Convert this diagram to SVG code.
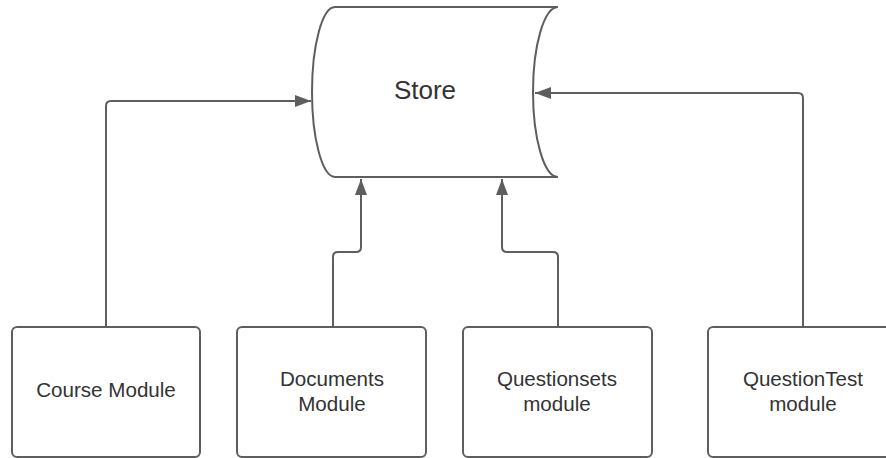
<svg xmlns="http://www.w3.org/2000/svg" width="886" height="458" viewBox="0 0 886 458">
<style>
.shape{fill:#ffffff;stroke:#5e5e5e;stroke-width:2}
.conn{fill:none;stroke:#5e5e5e;stroke-width:2}
.lbl{font-family:"Liberation Sans",Arial,sans-serif;font-size:20.6px;fill:#333333;text-anchor:middle}
.big{font-size:26px}
</style>
<defs>
<marker id="arr" viewBox="0 0 16 12" refX="16" refY="6" markerWidth="16" markerHeight="12" markerUnits="userSpaceOnUse" orient="auto">
<path d="M0,0 L16,6 L0,12 z" fill="#5e5e5e"/>
</marker>
</defs>
<rect width="886" height="458" fill="#ffffff"/>
<g id="store">
<path class="shape" d="M335,7 H558 A25,85 0 0 0 558,177 H335 A23,85 0 0 1 335,7 Z"/>
<text class="lbl big" x="425" y="99">Store</text>
</g>
<g id="course">
<rect class="shape" x="12" y="327" width="188" height="130" rx="5"/>
<text class="lbl" x="106" y="397">Course Module</text>
</g>
<g id="documents">
<rect class="shape" x="237" y="327" width="189" height="130" rx="5"/>
<text class="lbl" x="332" y="386">Documents</text>
<text class="lbl" x="332" y="411">Module</text>
</g>
<g id="questionsets">
<rect class="shape" x="463" y="327" width="189" height="130" rx="5"/>
<text class="lbl" x="557" y="386">Questionsets</text>
<text class="lbl" x="557" y="411">module</text>
</g>
<g id="questiontest">
<rect class="shape" x="708" y="327" width="190" height="130" rx="5"/>
<text class="lbl" x="803" y="386">QuestionTest</text>
<text class="lbl" x="803" y="411">module</text>
</g>
<g id="connectors">
<path class="conn" marker-end="url(#arr)" d="M106,327 V106 Q106,101 111,101 H311"/>
<path class="conn" marker-end="url(#arr)" d="M333,327 V257 Q333,252 338,252 H356 Q361,252 361,247 V179"/>
<path class="conn" marker-end="url(#arr)" d="M558,327 V257 Q558,252 553,252 H507 Q502,252 502,247 V179"/>
<path class="conn" marker-end="url(#arr)" d="M803,327 V98 Q803,93 798,93 H535"/>
</g>
</svg>
